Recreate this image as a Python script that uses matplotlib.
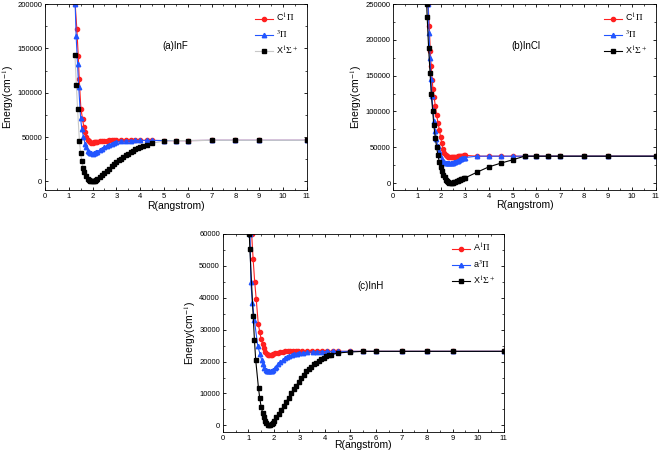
import matplotlib.pyplot as plt
from matplotlib.ticker import MultipleLocator

plt.rcParams['font.family'] = ['Liberation Sans', 'DejaVu Sans']
plt.rcParams['mathtext.fontset'] = 'stix'

# ---- (a) InF ----
inf_x_r = [1.26, 1.32, 1.37, 1.45, 1.50, 1.55, 1.60, 1.66, 1.72, 1.81, 1.85, 1.90, 1.95, 2.00, 2.05,
           2.10, 2.15, 2.20, 2.30, 2.40, 2.50, 2.60, 2.70, 2.80, 2.90, 3.00, 3.10, 3.20, 3.30, 3.40,
           3.50, 3.60, 3.70, 3.80, 3.90, 4.00, 4.10, 4.30, 4.50, 5.0, 5.5, 6, 7, 8, 9, 11]
inf_x_e = [143000, 109000, 82000, 45000, 32000, 23000, 15500, 10200, 6000, 2600, 1800, 900, 400, 200, 300,
           800, 1500, 2400, 4400, 6800, 9300, 11800, 14300, 16800, 19200, 21500, 23600, 25700, 27700, 29600,
           31400, 33100, 34700, 36200, 37600, 38900, 40000, 41500, 43000, 45500, 46000, 46000, 46200, 46200, 46200, 46200]
inf_c_r = [1.27, 1.34, 1.40, 1.44, 1.51, 1.58, 1.63, 1.69, 1.74, 1.81, 1.85, 1.90, 1.95, 2.00, 2.05,
           2.10, 2.15, 2.20, 2.30, 2.40, 2.50, 2.60, 2.70, 2.80, 2.90, 3.00, 3.20, 3.40, 3.60, 3.80,
           4.00, 4.30, 4.50, 5.0, 5.5, 6, 7, 8, 9, 11]
inf_c_e = [200000, 172000, 141000, 116000, 82000, 70500, 61700, 55300, 50300, 46600, 45000, 44200, 43800, 43800, 44000,
           44300, 44600, 44900, 45300, 45600, 45800, 46000, 46100, 46200, 46200, 46200, 46200, 46200, 46200, 46200,
           46200, 46200, 46200, 46000, 46000, 46000, 46200, 46200, 46200, 46200]
inf_t_r = [1.27, 1.31, 1.37, 1.42, 1.50, 1.55, 1.62, 1.69, 1.73, 1.80, 1.85, 1.90, 1.95, 2.00, 2.05,
           2.10, 2.15, 2.20, 2.30, 2.40, 2.50, 2.60, 2.70, 2.80, 2.90, 3.00, 3.20, 3.40, 3.60, 3.80,
           4.00, 4.30, 4.50, 5.0, 5.5, 6, 7, 8, 9, 11]
inf_t_e = [200000, 164000, 132000, 106000, 71000, 58700, 50300, 42000, 39000, 34500, 33000, 32000, 31500, 31400, 31600,
           32100, 32800, 33600, 35300, 37000, 38700, 40200, 41500, 42600, 43500, 44200, 45100, 45600, 45900, 46100,
           46200, 46200, 46200, 46000, 46000, 46000, 46200, 46200, 46200, 46200]

# ---- (b) InCl ----
incl_x_r = [1.40, 1.42, 1.48, 1.54, 1.59, 1.65, 1.70, 1.76, 1.82, 1.87, 1.93, 1.98, 2.04, 2.09, 2.15,
            2.20, 2.25, 2.30, 2.35, 2.40, 2.45, 2.50, 2.55, 2.60, 2.65, 2.70, 2.75, 2.80, 2.85, 2.90,
            2.95, 3.00, 3.5, 4.0, 4.5, 5.0, 5.5, 6.0, 6.5, 7, 8, 9, 11]
incl_x_e = [250000, 232000, 189000, 154000, 125000, 101000, 80700, 63300, 49700, 38500, 29500, 23000, 16400, 11700, 7800,
            4800, 2700, 1200, 400, 100, 200, 600, 1100, 1700, 2300, 3000, 3700, 4400, 5100, 5800,
            6400, 7000, 15000, 22500, 27700, 32400, 37500, 37500, 37500, 37500, 37500, 37500, 37500]
incl_c_r = [1.46, 1.51, 1.55, 1.59, 1.63, 1.66, 1.71, 1.76, 1.82, 1.87, 1.93, 1.98, 2.03, 2.08, 2.14,
            2.20, 2.25, 2.30, 2.35, 2.40, 2.45, 2.50, 2.55, 2.60, 2.65, 2.70, 2.75, 2.80, 2.85, 2.90,
            2.95, 3.00, 3.5, 4.0, 4.5, 5.0, 5.5, 6.0, 6.5, 7, 8, 9, 11]
incl_c_e = [250000, 219000, 184000, 163000, 144000, 132000, 120500, 108000, 94700, 84400, 74600, 65000, 55800, 46900, 42000,
            39500, 38000, 37000, 36300, 36000, 35800, 35800, 36000, 36300, 36700, 37100, 37500, 37900, 38200, 38400,
            38600, 38700, 37500, 37500, 37500, 37500, 37500, 37500, 37500, 37500, 37500, 37500, 37500]
incl_t_r = [1.46, 1.50, 1.54, 1.58, 1.62, 1.66, 1.71, 1.76, 1.81, 1.86, 1.92, 1.97, 2.03, 2.08, 2.14,
            2.20, 2.25, 2.30, 2.35, 2.40, 2.45, 2.50, 2.55, 2.60, 2.65, 2.70, 2.75, 2.80, 2.85, 2.90,
            2.95, 3.00, 3.5, 4.0, 4.5, 5.0, 5.5, 6.0, 6.5, 7, 8, 9, 11]
incl_t_e = [250000, 209000, 175000, 146000, 121000, 102000, 86000, 73000, 62000, 52000, 44500, 38500, 34000, 31000, 29500,
            28600, 28100, 27900, 27800, 27900, 28200, 28600, 29200, 29800, 30600, 31400, 32200, 33000, 33800, 34500,
            35100, 35600, 37500, 37500, 37500, 37500, 37500, 37500, 37500, 37500, 37500, 37500, 37500]

# ---- (c) InH ----
inh_x_r = [1.04, 1.06, 1.19, 1.24, 1.29, 1.40, 1.45, 1.50, 1.56, 1.61, 1.66, 1.71, 1.76, 1.81, 1.86,
           1.91, 1.96, 2.01, 2.09, 2.19, 2.29, 2.38, 2.48, 2.58, 2.68, 2.78, 2.88, 2.98, 3.07, 3.17,
           3.27, 3.37, 3.46, 3.56, 3.66, 3.76, 3.86, 3.96, 4.05, 4.15, 4.25, 4.51, 5.0, 5.5, 6, 7, 8, 9, 11]
inh_x_e = [60000, 55400, 34400, 26800, 20500, 11600, 8500, 5900, 4000, 2500, 1300, 600, 150, 0, 50,
           300, 800, 1500, 2700, 3700, 4800, 6100, 7400, 8700, 10000, 11300, 12500, 13700, 14800, 15900,
           16900, 17700, 18400, 19100, 19700, 20200, 20700, 21200, 21600, 21900, 22200, 22700, 23000, 23200, 23200, 23200, 23200, 23200, 23200]
inh_a_r = [1.13, 1.19, 1.25, 1.31, 1.39, 1.45, 1.50, 1.56, 1.61, 1.67, 1.73, 1.78, 1.83, 1.88, 1.93,
           1.98, 2.05, 2.15, 2.25, 2.35, 2.45, 2.55, 2.65, 2.75, 2.85, 2.95, 3.10, 3.30, 3.50, 3.70,
           3.90, 4.10, 4.30, 4.50, 5.0, 5.5, 6, 7, 8, 9, 11]
inh_a_e = [60000, 52000, 45000, 39600, 31800, 29200, 27100, 25500, 24300, 23000, 22300, 22100, 22000, 22100, 22200,
           22400, 22600, 22800, 23000, 23100, 23200, 23200, 23200, 23200, 23200, 23200, 23200, 23200, 23200, 23200,
           23200, 23200, 23200, 23200, 23200, 23200, 23200, 23200, 23200, 23200, 23200]
inh_t_r = [1.07, 1.10, 1.16, 1.24, 1.37, 1.46, 1.52, 1.57, 1.63, 1.68, 1.73, 1.78, 1.83, 1.88, 1.93,
           1.98, 2.04, 2.09, 2.17, 2.26, 2.35, 2.44, 2.52, 2.61, 2.70, 2.80, 2.90, 3.00, 3.15, 3.30,
           3.53, 3.70, 3.90, 4.10, 4.30, 4.50, 5.0, 5.5, 6, 7, 8, 9, 11]
inh_t_e = [60000, 44800, 38500, 32900, 24900, 22300, 20500, 19300, 17900, 17300, 17000, 16900, 16900, 17000, 17200,
           17500, 17900, 18400, 19100, 19800, 20500, 21000, 21400, 21800, 22100, 22300, 22500, 22600, 22800, 22900,
           23000, 23100, 23100, 23200, 23200, 23200, 23200, 23200, 23200, 23200, 23200, 23200, 23200]

red = '#ff2020'
blue = '#2255ff'

fig = plt.figure(figsize=(6.61, 4.55), dpi=100)
fig.patch.set_facecolor('white')


def draw_panel(rect, curves, ylim, ymajor, title, title_pos, labels, black_line, xlabelpad):
    ax = fig.add_axes(rect)
    (r1, e1), (r2, e2), (r3, e3) = curves
    ax.plot(r1, e1, '-o', color=red, ms=3, lw=0.8, label=labels[0])
    ax.plot(r2, e2, '-^', color=blue, ms=3.2, lw=0.8, label=labels[1])
    ax.plot(r3, e3, '-s', color=black_line, mfc='black', mec='black', ms=2.8, lw=0.8,
            label=labels[2])
    ax.set_xlim(0, 11)
    ax.set_ylim(*ylim)
    ax.xaxis.set_major_locator(MultipleLocator(1))
    ax.xaxis.set_minor_locator(MultipleLocator(0.5))
    ax.yaxis.set_major_locator(MultipleLocator(ymajor))
    ax.yaxis.set_minor_locator(MultipleLocator(ymajor / 2))
    ax.tick_params(which='both', direction='in', top=True, right=True, labelsize=5.5, pad=2)
    ax.tick_params(which='major', length=2.5, width=0.6)
    ax.tick_params(which='minor', length=1.5, width=0.5)
    for s in ax.spines.values():
        s.set_linewidth(0.6)
    ax.set_ylabel('Energy(cm$^{-1}$)', fontsize=7.5, labelpad=1)
    ax.set_xlabel('R(angstrom)', fontsize=7.5, labelpad=xlabelpad)
    ax.text(title_pos[0], title_pos[1], title, transform=ax.transAxes, fontsize=7)
    ax.legend(loc='upper right', fontsize=6.5, frameon=False, handlelength=2.0,
              handletextpad=0.3, labelspacing=0.5, borderaxespad=0.5)
    return ax


draw_panel([0.068, 0.582, 0.396, 0.409],
           [(inf_c_r, inf_c_e), (inf_t_r, inf_t_e), (inf_x_r, inf_x_e)],
           (-10000, 200000), 50000, '(a)InF', (0.45, 0.76),
           ['C$^1\\Pi$', '$^3\\Pi$', 'X$^1\\Sigma^+$'], '#c8c8c8', 1)
draw_panel([0.595, 0.582, 0.397, 0.409],
           [(incl_c_r, incl_c_e), (incl_t_r, incl_t_e), (incl_x_r, incl_x_e)],
           (-10000, 250000), 50000, '(b)InCl', (0.45, 0.76),
           ['C$^1\\Pi$', '$^3\\Pi$', 'X$^1\\Sigma^+$'], 'black', 0)
draw_panel([0.337, 0.051, 0.425, 0.435],
           [(inh_a_r, inh_a_e), (inh_t_r, inh_t_e), (inh_x_r, inh_x_e)],
           (-2000, 60000), 10000, '(c)InH', (0.48, 0.72),
           ['A$^1\\Pi$', 'a$^3\\Pi$', 'X$^1\\Sigma^+$'], 'black', -1)

fig.savefig('out.png', dpi=100)
